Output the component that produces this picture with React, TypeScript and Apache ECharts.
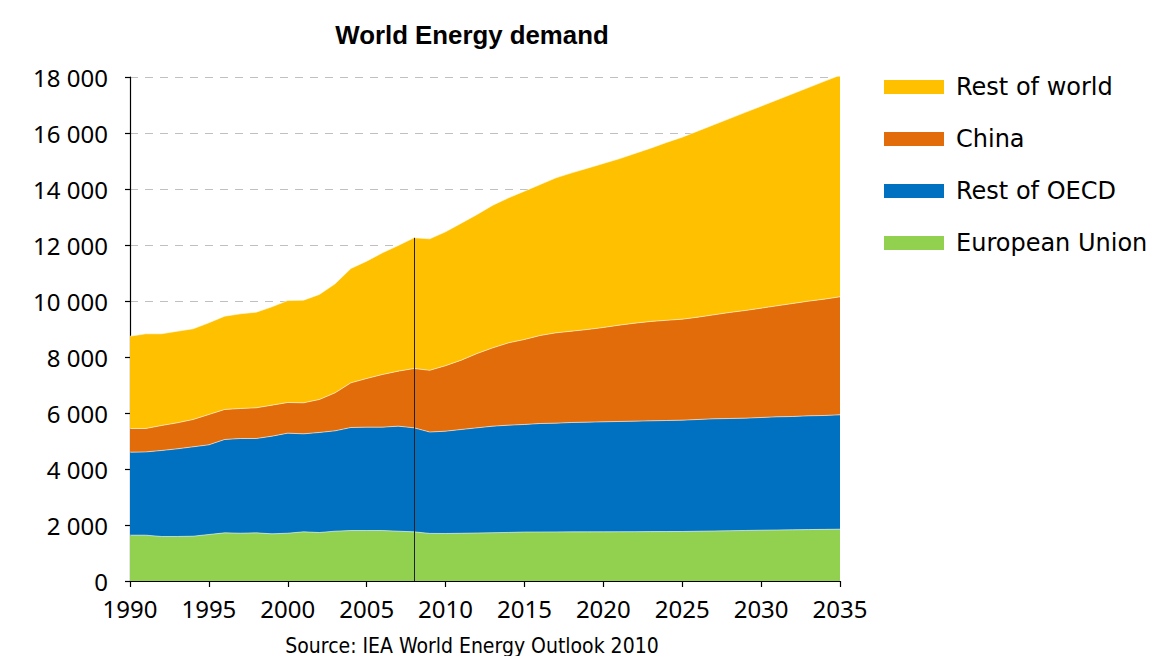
import React, { useEffect, useRef } from "react";
import * as echarts from "echarts";

const years: number[] = [
  1990, 1991, 1992, 1993, 1994, 1995, 1996, 1997, 1998, 1999,
  2000, 2001, 2002, 2003, 2004, 2005, 2006, 2007, 2008, 2009,
  2010, 2011, 2012, 2013, 2014, 2015, 2016, 2017, 2018, 2019,
  2020, 2021, 2022, 2023, 2024, 2025, 2026, 2027, 2028, 2029,
  2030, 2031, 2032, 2033, 2034, 2035,
];

const europeanUnion: number[] = [
  1637, 1637, 1590, 1590, 1601, 1661, 1720, 1708, 1720, 1685,
  1708, 1756, 1732, 1780, 1803, 1803, 1803, 1780, 1756, 1700,
  1697, 1705, 1715, 1725, 1735, 1750, 1752, 1754, 1755, 1756,
  1757, 1760, 1762, 1764, 1766, 1768, 1778, 1787, 1796, 1805,
  1815, 1822, 1830, 1837, 1844, 1851,
];

const restOfOECD: number[] = [
  2963, 2973, 3071, 3130, 3191, 3202, 3334, 3381, 3369, 3487,
  3572, 3500, 3572, 3583, 3679, 3691, 3691, 3750, 3714, 3620,
  3654, 3706, 3755, 3805, 3831, 3840, 3873, 3883, 3906, 3917,
  3928, 3937, 3947, 3956, 3966, 3976, 3990, 4005, 4008, 4011,
  4024, 4041, 4045, 4062, 4067, 4084,
];

const china: number[] = [
  846, 836, 893, 929, 976, 1083, 1071, 1072, 1096, 1108,
  1095, 1107, 1178, 1357, 1595, 1738, 1881, 1964, 2119, 2205,
  2339, 2476, 2655, 2798, 2940, 3035, 3143, 3226, 3262, 3309,
  3369, 3440, 3500, 3548, 3578, 3606, 3655, 3714, 3786, 3845,
  3905, 3965, 4036, 4095, 4155, 4214,
];

const restOfWorld: number[] = [
  3297, 3383, 3275, 3272, 3238, 3275, 3333, 3381, 3416, 3512,
  3643, 3667, 3750, 3893, 4084, 4191, 4345, 4488, 4667, 4695,
  4780, 4893, 4964, 5095, 5179, 5298, 5393, 5536, 5654, 5762,
  5857, 5941, 6059, 6190, 6351, 6501, 6650, 6788, 6925, 7076,
  7214, 7352, 7490, 7629, 7778, 7916,
];

const seriesNames = ["European Union", "Rest of OECD", "China", "Rest of world"];
const seriesColors = ["#92D050", "#0070C0", "#E36C0A", "#FFC000"];
const legendOrder = ["Rest of world", "China", "Rest of OECD", "European Union"];
const markerYear = 2008;

const fmt = (v: number) =>
  String(v).replace(/\B(?=(\d{3})+(?!\d))/g, " ");

export default function App() {
  const ref = useRef<HTMLDivElement>(null);

  useEffect(() => {
    if (!ref.current) return;
    const chart = echarts.init(ref.current, undefined, { renderer: "svg" });
    const seriesData = [europeanUnion, restOfOECD, china, restOfWorld];
    const mi = years.indexOf(markerYear);
    const markerTotal =
      europeanUnion[mi] + restOfOECD[mi] + china[mi] + restOfWorld[mi];

    const series: any[] = seriesData.map((vals, i) => ({
      name: seriesNames[i],
      type: "line",
      stack: "total",
      data: vals,
      showSymbol: false,
      symbol: "none",
      lineStyle: { width: 1, color: "rgba(255,255,255,0.55)" },
      itemStyle: { color: seriesColors[i] },
      areaStyle: { color: seriesColors[i], opacity: 1 },
      z: 2,
    }));
    series[3].markLine = {
      silent: true,
      symbol: "none",
      label: { show: false },
      lineStyle: { color: "#222", width: 1, type: "solid" },
      data: [
        [
          { coord: [String(markerYear), 0] },
          { coord: [String(markerYear), markerTotal] },
        ],
      ],
    };

    const axisFont = "'Noto Sans', 'DejaVu Sans', sans-serif";

    chart.setOption({
      animation: false,
      backgroundColor: "#ffffff",
      title: {
        text: "World Energy demand",
        left: 472,
        textAlign: "center",
        top: 22,
        padding: 0,
        textStyle: {
          fontFamily: "'Liberation Sans', Arial, sans-serif",
          fontWeight: "bold",
          fontSize: 25.8,
          color: "#000",
        },
      },
      legend: {
        orient: "vertical",
        left: 884,
        top: 75,
        padding: 0,
        itemWidth: 60,
        itemHeight: 14,
        itemGap: 28,
        icon: "rect",
        data: legendOrder,
        selectedMode: false,
        textStyle: {
          fontFamily: "'DejaVu Sans', sans-serif",
          fontSize: 24,
          lineHeight: 24,
          color: "#000",
          padding: [0, 0, 0, 7],
        },
      },
      grid: { left: 130, right: 336, top: 77, bottom: 83, containLabel: false },
      xAxis: {
        type: "category",
        data: years.map(String),
        boundaryGap: false,
        axisLine: { show: true, lineStyle: { color: "#000", width: 1.2 } },
        axisTick: {
          show: true,
          interval: 4,
          length: 6,
          lineStyle: { color: "#000", width: 1.2 },
        },
        splitLine: { show: false },
        axisLabel: {
          interval: 4,
          margin: 15,
          fontFamily: axisFont,
          fontSize: 24,
          color: "#000",
        },
      },
      yAxis: {
        type: "value",
        min: 0,
        max: 18000,
        interval: 2000,
        axisLine: { show: true, lineStyle: { color: "#000", width: 1.2 } },
        axisTick: { show: true, length: 5, lineStyle: { color: "#000", width: 1.2 } },
        splitLine: {
          show: true,
          lineStyle: { color: "#c0c0c0", width: 1, type: [8, 7] },
        },
        axisLabel: {
          margin: 22,
          fontFamily: axisFont,
          fontSize: 24,
          color: "#000",
          formatter: (v: number) => fmt(v),
        },
      },
      graphic: [
        {
          type: "text",
          x: 472,
          y: 635,
          style: {
            text: "Source: IEA World Energy Outlook 2010",
            align: "center",
            fontFamily: "'Liberation Sans Narrow', 'DejaVu Sans Condensed', 'Liberation Sans', sans-serif",
            fontSize: 21,
            fill: "#000",
          },
        },
      ],
      series,
    });

    return () => chart.dispose();
  }, []);

  return <div ref={ref} style={{ width: 1176, height: 664, margin: -8 }} />;
}
